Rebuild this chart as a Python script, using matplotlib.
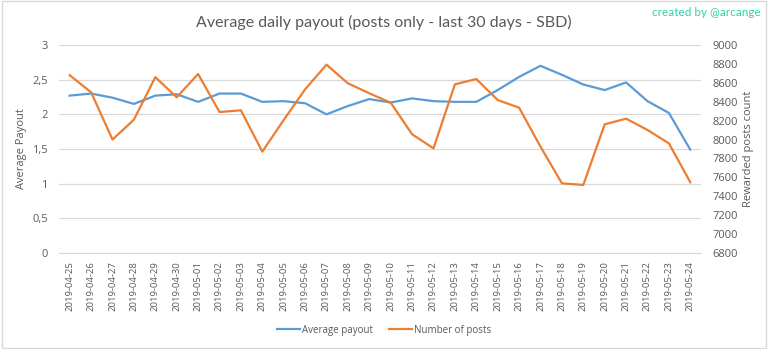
import matplotlib.pyplot as plt
from matplotlib.patches import Rectangle
from matplotlib.ticker import FuncFormatter

dates = ['2019-04-25', '2019-04-26', '2019-04-27', '2019-04-28', '2019-04-29',
         '2019-04-30', '2019-05-01', '2019-05-02', '2019-05-03', '2019-05-04',
         '2019-05-05', '2019-05-06', '2019-05-07', '2019-05-08', '2019-05-09',
         '2019-05-10', '2019-05-11', '2019-05-12', '2019-05-13', '2019-05-14',
         '2019-05-15', '2019-05-16', '2019-05-17', '2019-05-18', '2019-05-19',
         '2019-05-20', '2019-05-21', '2019-05-22', '2019-05-23', '2019-05-24']
avg_payout = [2.27, 2.30, 2.24, 2.15, 2.27, 2.29, 2.18, 2.30, 2.30, 2.18,
              2.19, 2.16, 2.00, 2.12, 2.22, 2.17, 2.23, 2.19, 2.18, 2.18,
              2.35, 2.54, 2.70, 2.57, 2.43, 2.35, 2.46, 2.19, 2.02, 1.49]
num_posts = [8680, 8500, 8000, 8210, 8660, 8447, 8693, 8291, 8309, 7872,
             8207, 8531, 8792, 8595, 8489, 8390, 8056, 7907, 8584, 8640,
             8418, 8337, 7925, 7537, 7520, 8161, 8221, 8101, 7960, 7548]

BLUE = '#5b9bd5'
ORANGE = '#ed7d31'
GREY = '#595959'
GRID = '#d9d9d9'

plt.rcParams['font.family'] = ['Open Sans', 'DejaVu Sans']

fig = plt.figure(figsize=(7.68, 3.49), dpi=100)
ax = fig.add_axes([59 / 768, 1 - 253 / 349, 642 / 768, 208 / 349])
ax2 = ax.twinx()

x = list(range(len(dates)))
l1, = ax.plot(x, avg_payout, color=BLUE, lw=1.6, label='Average payout')
l2, = ax2.plot(x, num_posts, color=ORANGE, lw=1.6, label='Number of posts')

ax.set_xlim(-0.5, len(dates) - 0.5)
ax.set_ylim(0, 3)
ax.set_yticks([0, 0.5, 1, 1.5, 2, 2.5, 3])
ax.yaxis.set_major_formatter(FuncFormatter(lambda v, p: ('%g' % v).replace('.', ',')))
ax2.set_ylim(6800, 9000)
ax2.set_yticks(range(6800, 9001, 200))

ax.grid(axis='y', color=GRID, lw=0.9)
ax.set_axisbelow(True)
for a in (ax, ax2):
    for s in a.spines.values():
        s.set_visible(False)
ax.spines['bottom'].set_visible(True)
ax.spines['bottom'].set_color(GRID)

ax.set_xticks(x)
ax.set_xticklabels(dates, rotation=90, fontsize=6.8, color=GREY)
ax.tick_params(axis='x', length=0, pad=6)
ax.tick_params(axis='y', length=0, labelsize=8, labelcolor=GREY, pad=8)
ax2.tick_params(axis='y', length=0, labelsize=8, labelcolor=GREY, pad=8)

ax.set_ylabel('Average Payout', fontsize=8, color=GREY, labelpad=4)
ax2.set_ylabel('Rewarded posts count', fontsize=8, color=GREY, labelpad=4)

fig.text(0.5, 1 - 22 / 349, 'Average daily payout (posts only - last 30 days - SBD)',
         ha='center', va='center', fontsize=11.5, color=GREY, family='Lato')
fig.text(0.99, 1 - 13 / 349, 'created by @arcange', ha='right', va='center',
         fontsize=8.5, color='#2ed3a8', family='Lato')

fig.legend(handles=[l1, l2], loc='center', bbox_to_anchor=(0.5, 1 - 330 / 349),
           ncol=2, frameon=False, fontsize=7, labelcolor=GREY,
           handlelength=2.4, columnspacing=1.6, handletextpad=0.2)

# thin frame around the whole chart
fig.patches.append(Rectangle((0.002, 0.003), 0.996, 0.994, transform=fig.transFigure,
                             fill=False, edgecolor=GRID, lw=1))

fig.savefig('out.png', dpi=100)
